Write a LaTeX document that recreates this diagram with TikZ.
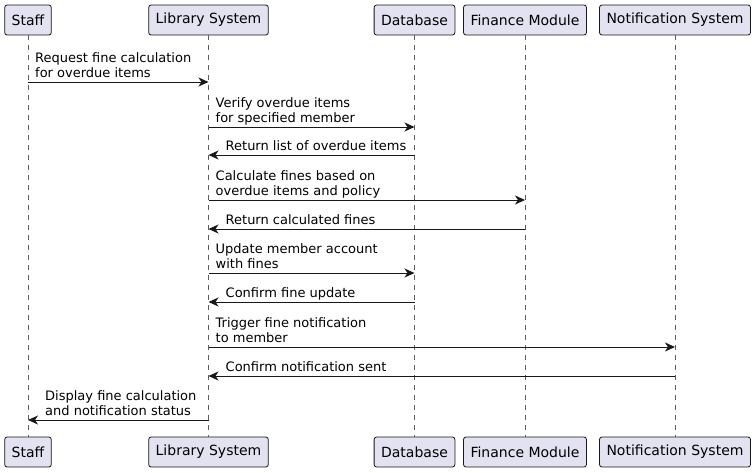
\documentclass[tikz,border=0pt]{standalone}
\usepackage{fontspec}
\setmainfont{DejaVu Sans}
\usepackage{tikz}
\usetikzlibrary{arrows.meta,positioning}
\definecolor{partfill}{HTML}{E2E2F0}
\definecolor{partline}{HTML}{181818}
\tikzset{
  party/.style    = {draw=partline, fill=partfill, rounded corners=2.5pt, line width=0.8pt,
                     minimum height=30pt, inner xsep=7pt, inner ysep=0pt,
                     font=\fontsize{14}{16}\selectfont},
  lifeline/.style = {draw=partline!70, line width=0.6pt, dash pattern=on 5pt off 5pt},
  msg/.style      = {draw=partline, line width=0.9pt, -{Stealth[length=10pt,width=9pt,inset=3pt]}},
  msglabel/.style = {inner sep=0pt, align=left, text depth=3pt, anchor=south west,
                     font=\fontsize{13}{15}\selectfont}
}

\begin{document}
\begin{tikzpicture}[x=1pt,y=-1pt]
\useasboundingbox (0,0) rectangle (755,472);

% participants, top row
\node[party] (staff) at (28,20)    {Staff};
\node[party] (lib)   at (208.5,20) {Library System};
\node[party] (db)    at (414.5,20) {Database};
\node[party] (fin)   at (525,20)   {Finance Module};
\node[party] (notif) at (675,20)   {Notification System};

% participants, bottom row
\node[party] (staffB) at (28,452)    {Staff};
\node[party] (libB)   at (208.5,452) {Library System};
\node[party] (dbB)    at (414.5,452) {Database};
\node[party] (finB)   at (525,452)   {Finance Module};
\node[party] (notifB) at (675,452)   {Notification System};

% lifelines
\foreach \p in {staff,lib,db,fin,notif}
  \draw[lifeline] (\p.south) -- (\p B.north);

% calls, left to right
\foreach \from/\to/\y/\txt in {
    staff/lib/82/{Request fine calculation\\for overdue items},
    lib/db/127/{Verify overdue items\\for specified member},
    lib/fin/200/{Calculate fines based on\\overdue items and policy},
    lib/db/273/{Update member account\\with fines},
    lib/notif/347/{Trigger fine notification\\to member}}
{
  \draw[msg] (\from |- 0,\y) -- (\to |- 0,\y);
  \node[msglabel] (m\y) at ([xshift=7pt]\from |- 0,\y-1) {\txt};
}

% replies, right to left
\foreach \from/\to/\y/\txt in {
    db/lib/155/{Return list of overdue items},
    fin/lib/229/{Return calculated fines},
    db/lib/302/{Confirm fine update},
    notif/lib/376/{Confirm notification sent},
    lib/staff/420/{Display fine calculation\\and notification status}}
{
  \draw[msg] (\from |- 0,\y) -- (\to |- 0,\y);
  \node[msglabel] (m\y) at ([xshift=17pt]\to |- 0,\y-1) {\txt};
}

\end{tikzpicture}
\end{document}
